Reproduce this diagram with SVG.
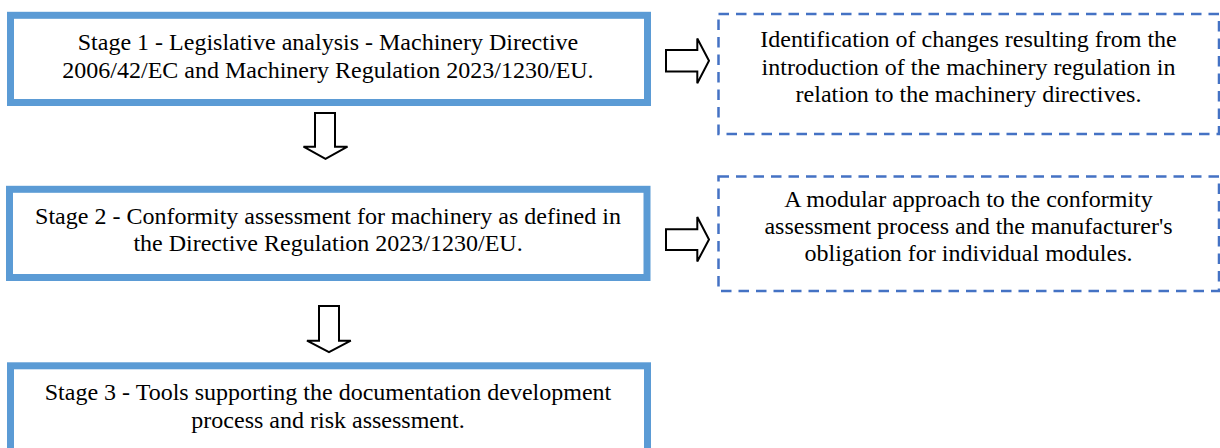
<svg xmlns="http://www.w3.org/2000/svg" width="1220" height="448" viewBox="0 0 1220 448">
  <style>
    .stage { fill: #ffffff; stroke: #5b9bd5; stroke-width: 7; }
    .note { fill: #ffffff; stroke: #4472c4; stroke-width: 2.5; stroke-dasharray: 10.5 7; }
    .arrow { fill: #ffffff; stroke: #000000; stroke-width: 2; stroke-linejoin: miter; }
    text { font-family: "Liberation Serif", "Times New Roman", serif; font-size: 24px; fill: #000000; text-anchor: middle; }
  </style>

  <g id="stage1">
    <rect class="stage" x="10.5" y="15.3" width="637" height="87.2"/>
    <text x="328" y="50">Stage 1 - Legislative analysis - Machinery Directive</text>
    <text x="328" y="78">2006/42/EC and Machinery Regulation 2023/1230/EU.</text>
  </g>

  <g id="stage2">
    <rect class="stage" x="9.5" y="189.3" width="637.5" height="88.2"/>
    <text x="328" y="223.5">Stage 2 - Conformity assessment for machinery as defined in</text>
    <text x="328" y="251">the Directive Regulation 2023/1230/EU.</text>
  </g>

  <g id="stage3">
    <rect class="stage" x="10.5" y="365.8" width="637" height="100"/>
    <text x="328" y="400">Stage 3 - Tools supporting the documentation development</text>
    <text x="328" y="428.3">process and risk assessment.</text>
  </g>

  <g id="note1">
    <rect class="note" x="718.5" y="14" width="500.5" height="120"/>
    <text x="968.5" y="47">Identification of changes resulting from the</text>
    <text x="968.5" y="74.5">introduction of the machinery regulation in</text>
    <text x="968.5" y="102">relation to the machinery directives.</text>
  </g>

  <g id="note2">
    <rect class="note" x="718.5" y="176.5" width="500.5" height="114.5"/>
    <text x="968.5" y="206.7">A modular approach to the conformity</text>
    <text x="968.5" y="233.5">assessment process and the manufacturer's</text>
    <text x="968.5" y="261">obligation for individual modules.</text>
  </g>

  <g id="connectors">
    <!-- block arrows from each stage to its note -->
    <polygon class="arrow" points="666,50 697.3,50 697.3,38.5 709,60.8 697.3,83.2 697.3,71.6 666,71.6"/>
    <polygon class="arrow" points="666,229.3 697.3,229.3 697.3,217 709,239.5 697.3,261.5 697.3,250 666,250"/>
    <!-- block arrows between stages -->
    <polygon class="arrow" points="315,113 335,113 335,146.7 347.5,146.7 325.5,158.8 303.5,146.7 315,146.7"/>
    <polygon class="arrow" points="319,306 339,306 339,340.7 350.8,340.7 329,352.2 307,340.7 319,340.7"/>
  </g>
</svg>
